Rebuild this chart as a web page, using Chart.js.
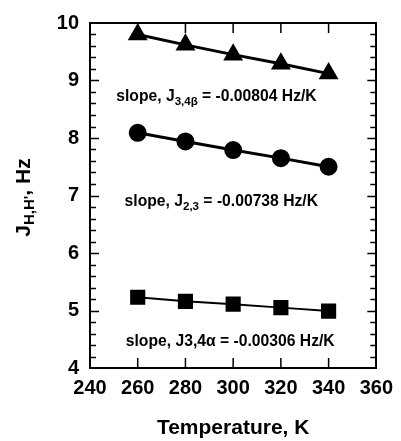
<!DOCTYPE html>
<html>
  <head>
    <title>Document</title>
    <script src="https://cdn.jsdelivr.net/npm/chart.js"></script>
    <style>
      body { margin: 0; background: #fff; }
      #wrap { width: 401px; height: 441px; }
    </style>
  </head>
  <body>
    <div id="wrap"><canvas id="jChart"></canvas></div>
    <script>
      var temps = [260, 280, 300, 320, 340];
      var j34b = [9.8, 9.62, 9.45, 9.29, 9.12];
      var j23 = [8.09, 7.94, 7.79, 7.65, 7.5];
      var j34a = [5.23, 5.16, 5.11, 5.05, 4.99];

      var xTicks = [240, 260, 280, 300, 320, 340, 360];
      var yTicks = [4, 5, 6, 7, 8, 9, 10];

      // text: [main, subscript, rest], placed at data coords
      var notes = [
        { x: 251, y: 8.72, parts: ["slope, J", "3,4\u03b2", " = -0.00804 Hz/K"] },
        { x: 254.5, y: 6.89, parts: ["slope, J", "2,3", " = -0.00738 Hz/K"] },
        { x: 255, y: 4.45, parts: ["slope, J3,4\u03b1 = -0.00306 Hz/K", "", ""] },
      ];

      function pts(ys) {
        return temps.map(function (t, i) { return { x: t, y: ys[i] }; });
      }

      var font = "'Liberation Sans', Arial, sans-serif";

      var extras = {
        id: "extras",
        afterDraw: function (chart) {
          var ctx = chart.ctx;
          var x = chart.scales.x, y = chart.scales.y;
          var a = chart.chartArea;
          ctx.save();
          ctx.strokeStyle = "#000";
          ctx.lineWidth = 1.5;
          ctx.beginPath();
          for (var t = 260; t <= 340; t += 20) {
            var px = x.getPixelForValue(t);
            ctx.moveTo(px, a.bottom); ctx.lineTo(px, a.bottom - 10);
            ctx.moveTo(px, a.top); ctx.lineTo(px, a.top + 10);
          }
          for (var k = 1; k < 30; k++) {
            var v = 4 + k * 0.2;
            var py = Math.round(y.getPixelForValue(v)) + 0.5;
            var len = k % 5 === 0 ? 9 : 6;
            ctx.moveTo(a.left, py); ctx.lineTo(a.left + len, py);
            ctx.moveTo(a.right, py); ctx.lineTo(a.right - len, py);
          }
          ctx.stroke();

          // slope notes
          ctx.fillStyle = "#000";
          ctx.textBaseline = "middle";
          ctx.textAlign = "left";
          notes.forEach(function (n) {
            var nx = x.getPixelForValue(n.x);
            var ny = y.getPixelForValue(n.y);
            ctx.font = "bold 15.7px " + font;
            ctx.fillText(n.parts[0], nx, ny);
            nx += ctx.measureText(n.parts[0]).width;
            if (n.parts[1]) {
              ctx.font = "bold 11.5px " + font;
              ctx.fillText(n.parts[1], nx, ny + 5);
              nx += ctx.measureText(n.parts[1]).width;
            }
            ctx.font = "bold 15.7px " + font;
            ctx.fillText(n.parts[2], nx, ny);
          });

          // y axis title with subscript
          ctx.translate(24, (a.top + a.bottom) / 2 + 2);
          ctx.rotate(-Math.PI / 2);
          var p1 = "J", p2 = "H,H'", p3 = ", Hz";
          ctx.font = "bold 21px " + font;
          var w1 = ctx.measureText(p1).width;
          var w3 = ctx.measureText(p3).width;
          ctx.font = "bold 15px " + font;
          var w2 = ctx.measureText(p2).width;
          var sx = -(w1 + w2 + w3) / 2;
          ctx.font = "bold 21px " + font;
          ctx.fillText(p1, sx, 0);
          ctx.font = "bold 15px " + font;
          ctx.fillText(p2, sx + w1, 6);
          ctx.font = "bold 21px " + font;
          ctx.fillText(p3, sx + w1 + w2, 0);
          ctx.restore();
        },
      };

      var ctx = document.getElementById("jChart").getContext("2d");
      var jChart = new Chart(ctx, {
        type: "line",
        data: {
          datasets: [
            {
              data: pts(j34b),
              borderColor: "#000",
              backgroundColor: "#000",
              borderWidth: 3,
              pointStyle: "triangle",
              pointRadius: 8.5,
            },
            {
              data: pts(j23),
              borderColor: "#000",
              backgroundColor: "#000",
              borderWidth: 3,
              pointStyle: "circle",
              pointRadius: 7.5,
            },
            {
              data: pts(j34a),
              borderColor: "#000",
              backgroundColor: "#000",
              borderWidth: 2,
              pointStyle: "rect",
              pointRadius: 9.3,
            },
          ],
        },
        plugins: [extras],
        options: {
          responsive: true,
          maintainAspectRatio: false,
          animation: false,
          layout: { padding: 0 },
          plugins: { legend: { display: false }, tooltip: { enabled: false } },
          scales: {
            x: {
              type: "linear",
              position: "bottom",
              min: 240,
              max: 360,
              afterBuildTicks: function (s) { s.ticks = xTicks.map(function (v) { return { value: v }; }); },
              afterFit: function (s) { s.height = 73; },
              grid: { display: false, drawTicks: false },
              border: { display: true, width: 2, color: "#000" },
              ticks: { color: "#000", padding: 8, font: { family: font, size: 20, weight: "bold" } },
              title: {
                display: true,
                text: "Temperature, K",
                color: "#000",
                padding: 0,
                font: { family: font, size: 21, weight: "bold" },
              },
            },
            x2: {
              type: "linear",
              position: "top",
              min: 240,
              max: 360,
              afterFit: function (s) { s.height = 21; },
              grid: { display: false, drawTicks: false },
              border: { display: true, width: 2, color: "#000" },
              ticks: { display: false },
            },
            y: {
              type: "linear",
              position: "left",
              min: 4,
              max: 10,
              afterBuildTicks: function (s) { s.ticks = yTicks.map(function (v) { return { value: v }; }); },
              afterFit: function (s) { s.width = 90; },
              grid: { display: false, drawTicks: false },
              border: { display: true, width: 2, color: "#000" },
              ticks: { color: "#000", padding: 11, font: { family: font, size: 20, weight: "bold" } },
            },
            y2: {
              type: "linear",
              position: "right",
              min: 4,
              max: 10,
              afterFit: function (s) { s.width = 21; },
              grid: { display: false, drawTicks: false },
              border: { display: true, width: 2, color: "#000" },
              ticks: { display: false },
            },
          },
        },
      });
    </script>
  </body>
</html>
